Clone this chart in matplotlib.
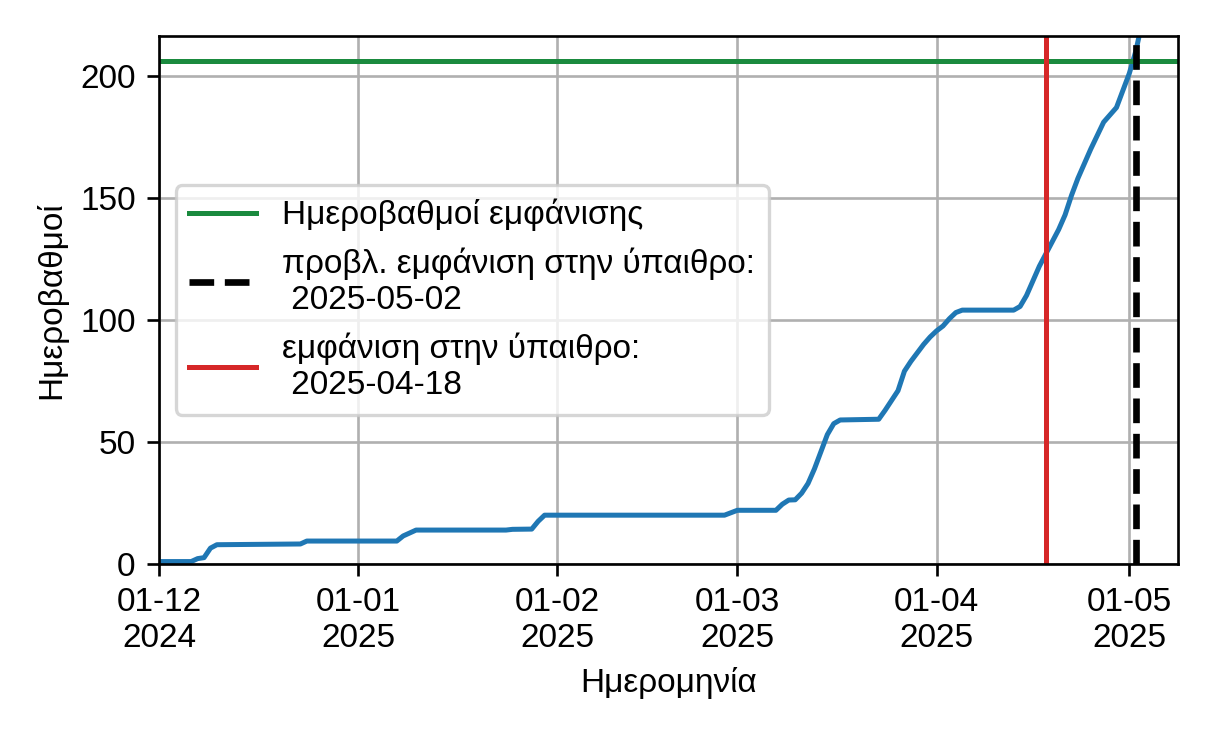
import datetime
import matplotlib
matplotlib.use('agg')
import matplotlib.pyplot as plt
import matplotlib.dates as mdates

plt.rcParams['font.family'] = ['Liberation Sans', 'DejaVu Sans']
plt.rcParams['font.size'] = 10

# cumulative degree-days (at break points)
dates = [
    "2024-12-01", "2024-12-06", "2024-12-07", "2024-12-08", "2024-12-09", "2024-12-10",
    "2024-12-23", "2024-12-24",
    "2025-01-07", "2025-01-08", "2025-01-10", "2025-01-24", "2025-01-25", "2025-01-28",
    "2025-01-29", "2025-01-30",
    "2025-02-27", "2025-03-01", "2025-03-07", "2025-03-08", "2025-03-09", "2025-03-10",
    "2025-03-11", "2025-03-12", "2025-03-13", "2025-03-14", "2025-03-15", "2025-03-16",
    "2025-03-17", "2025-03-23", "2025-03-24", "2025-03-25", "2025-03-26", "2025-03-27",
    "2025-03-28", "2025-03-29", "2025-03-30", "2025-03-31",
    "2025-04-01", "2025-04-02", "2025-04-03", "2025-04-04", "2025-04-05", "2025-04-13",
    "2025-04-14", "2025-04-15", "2025-04-16", "2025-04-17", "2025-04-18", "2025-04-19",
    "2025-04-20", "2025-04-21", "2025-04-22", "2025-04-23", "2025-04-24", "2025-04-25",
    "2025-04-26", "2025-04-27", "2025-04-28", "2025-04-29", "2025-04-30", "2025-05-01",
    "2025-05-02", "2025-05-03",
]
degree_days = [
    1.0, 1.0, 2.2, 2.6, 6.5, 7.9,
    8.2, 9.4,
    9.4, 11.5, 13.9, 13.9, 14.2, 14.3,
    17.5, 20.0,
    20.0, 22.0, 22.0, 24.5, 26.2, 26.3,
    29.0, 33.0, 39.0, 46.0, 53.0, 57.5,
    59.0, 59.3, 63.0, 67.0, 71.0, 79.0,
    83.0, 86.5, 90.0, 93.0,
    95.5, 97.5, 100.5, 103.0, 104.0, 104.0,
    105.5, 110.0, 116.0, 122.0, 127.0, 132.0,
    137.0, 143.0, 151.0, 158.0, 164.0, 170.0,
    175.5, 181.0, 184.0, 187.0, 194.0, 201.0,
    210.0, 222.0,
]

threshold = 206
predicted_date = "2025-05-02"
observed_date = "2025-04-18"
x_start = "2024-12-01"
x_end = "2025-05-08 14:00"

to_dt = lambda s: datetime.datetime.fromisoformat(s)
x = [to_dt(d) for d in dates]

fig = plt.figure(figsize=(1216 / 240, 730 / 240), dpi=240)
ax = fig.add_axes([0.1308, 0.2274, 0.838, 0.7233])

ax.plot(x, degree_days, color='#1f77b4', lw=1.5)
ax.axhline(threshold, color='#1a8a3e', lw=1.5, label='Ημεροβαθμοί εμφάνισης')
ax.axvline(to_dt(predicted_date), color='black', ls='--', lw=2,
           label=f'προβλ. εμφάνιση στην ύπαιθρο:\n {predicted_date}')
ax.axvline(to_dt(observed_date), color='#d62728', lw=1.5,
           label=f'εμφάνιση στην ύπαιθρο:\n {observed_date}')

ax.set_xlim(to_dt(x_start), to_dt(x_end))
ax.set_ylim(0, threshold * 1.05)
ax.xaxis.set_major_locator(mdates.MonthLocator())
ax.xaxis.set_major_formatter(mdates.DateFormatter('%d-%m\n%Y'))
ax.set_yticks([0, 50, 100, 150, 200])
ax.grid(True)
ax.set_xlabel('Ημερομηνία')
ax.set_ylabel('Ημεροβαθμοί')
ax.legend(loc='center left')

fig.savefig('out.png', dpi=240)
plt.close(fig)
